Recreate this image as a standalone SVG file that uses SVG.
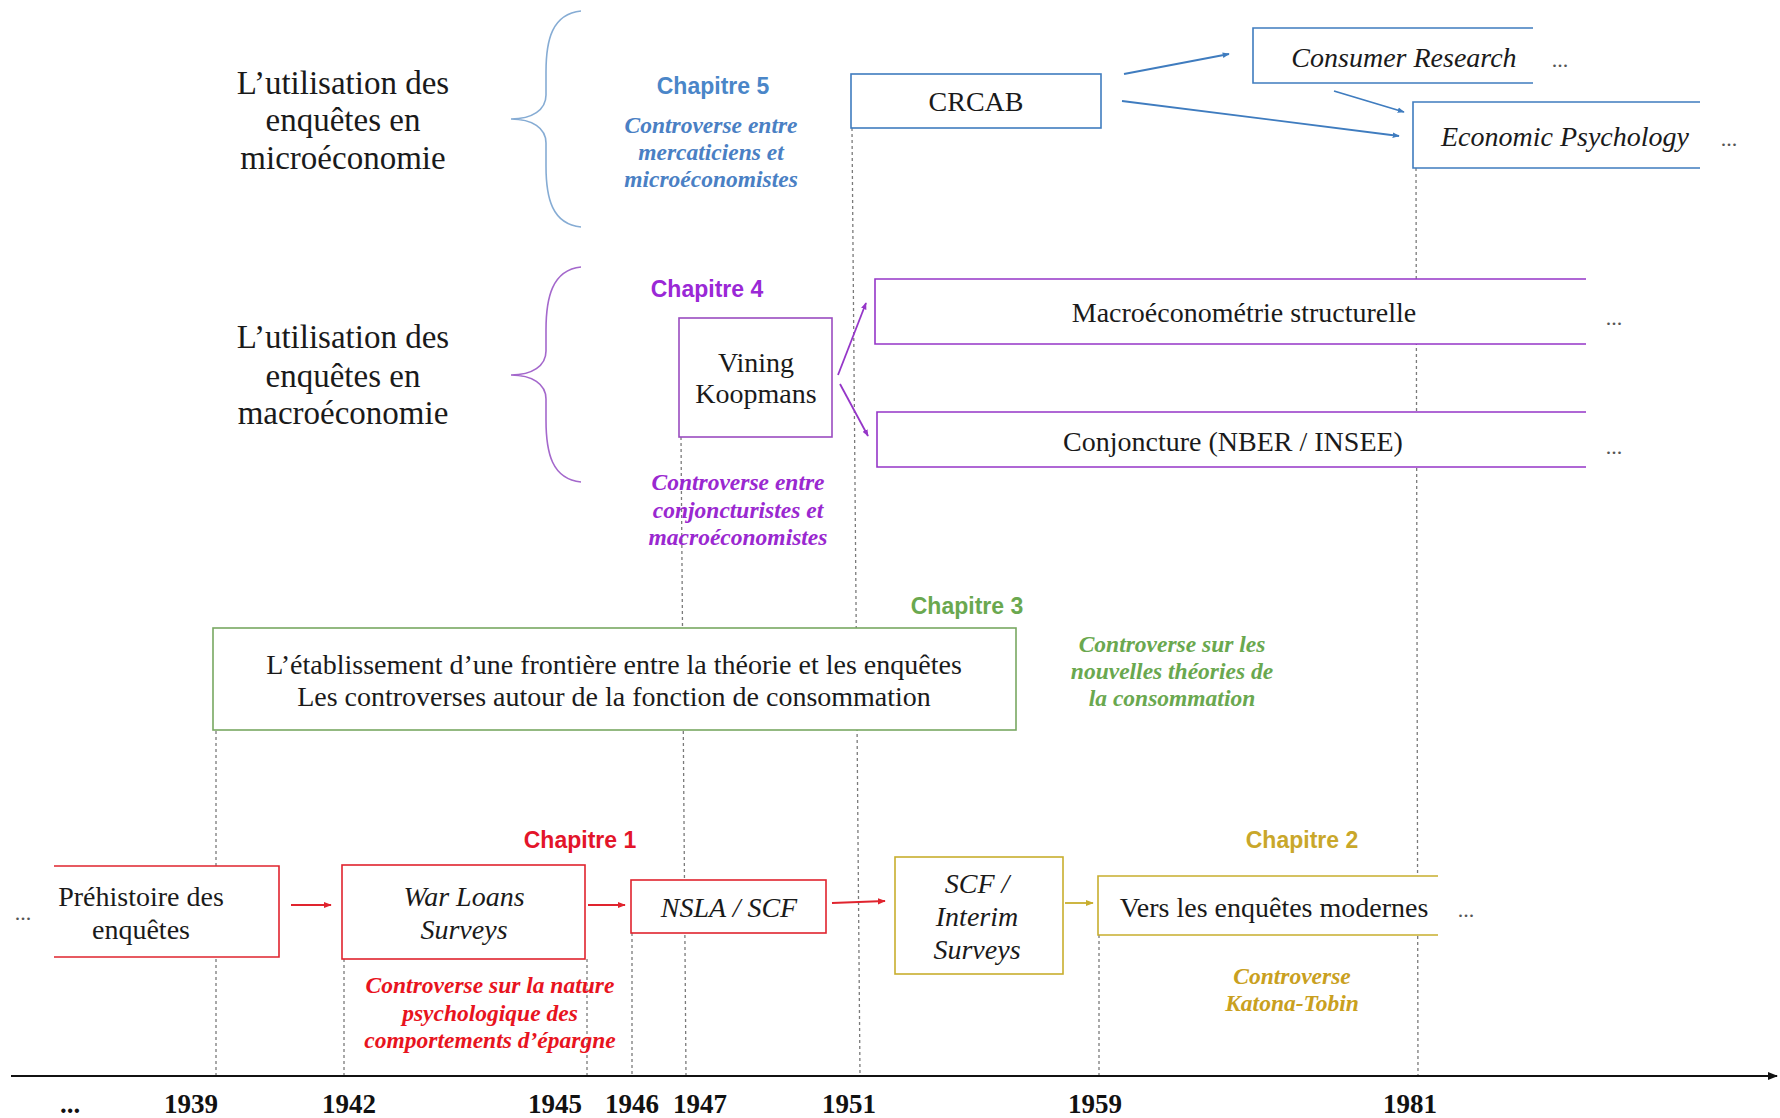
<svg xmlns="http://www.w3.org/2000/svg" width="1780" height="1118" viewBox="0 0 1780 1118">
<style>
.t{font-family:"Liberation Serif","Times New Roman",serif;font-size:28px;fill:#1a1a1a;text-anchor:middle}
.ti{font-style:italic}
.title{font-family:"Liberation Serif","Times New Roman",serif;font-size:33px;fill:#1a1a1a;text-anchor:middle}
.ch{font-family:"Liberation Sans",Arial,sans-serif;font-weight:bold;font-size:23px;text-anchor:middle}
.cv{font-family:"Liberation Serif","Times New Roman",serif;font-weight:bold;font-style:italic;font-size:23.5px;text-anchor:middle}
.yr{font-family:"Liberation Serif","Times New Roman",serif;font-weight:bold;font-size:27px;fill:#111;text-anchor:middle}
.dots{font-family:"Liberation Serif","Times New Roman",serif;font-size:22px;fill:#555;text-anchor:middle}
.guide{stroke:#7a7a7a;stroke-width:1.3;stroke-dasharray:3 3;fill:none}
.box{fill:#fff;stroke-width:1.6}
.bg{fill:#fff;stroke:none}
.blue{stroke:#3f7cbf;fill:none}
.purple{stroke:#9536c8;fill:none}
.green{stroke:#78a862;fill:none}
.red{stroke:#e0242e;fill:none}
.olive{stroke:#c8ae2e;fill:none}
.conn{stroke-width:1.8;fill:none}
</style>
<defs>
<marker id="ab" viewBox="0 0 10 10" refX="9" refY="5" markerWidth="7" markerHeight="7" orient="auto" markerUnits="userSpaceOnUse"><path d="M0,1 L10,5 L0,9 z" fill="#3f7cbf"/></marker>
<marker id="ap" viewBox="0 0 10 10" refX="9" refY="5" markerWidth="7" markerHeight="7" orient="auto" markerUnits="userSpaceOnUse"><path d="M0,1 L10,5 L0,9 z" fill="#9536c8"/></marker>
<marker id="ar" viewBox="0 0 10 10" refX="9" refY="5" markerWidth="8" markerHeight="8" orient="auto" markerUnits="userSpaceOnUse"><path d="M0,1 L10,5 L0,9 z" fill="#e0242e"/></marker>
<marker id="ao" viewBox="0 0 10 10" refX="9" refY="5" markerWidth="8" markerHeight="8" orient="auto" markerUnits="userSpaceOnUse"><path d="M0,1 L10,5 L0,9 z" fill="#c8ae2e"/></marker>
<marker id="ak" viewBox="0 0 10 10" refX="9" refY="5" markerWidth="10" markerHeight="10" orient="auto" markerUnits="userSpaceOnUse"><path d="M0,1 L10,5 L0,9 z" fill="#111"/></marker>
</defs>
<rect width="1780" height="1118" fill="#fff"/>

<g id="guides">
<line class="guide" x1="216" y1="731" x2="216" y2="1076"/>
<line class="guide" x1="344" y1="959" x2="344" y2="1076"/>
<line class="guide" x1="587" y1="959" x2="587" y2="1076"/>
<line class="guide" x1="632" y1="933" x2="632" y2="1076"/>
<line class="guide" x1="681" y1="437" x2="686" y2="1076"/>
<line class="guide" x1="852" y1="128" x2="860" y2="1076"/>
<line class="guide" x1="1099" y1="935" x2="1099" y2="1076"/>
<line class="guide" x1="1416" y1="168" x2="1418" y2="1076"/>
</g>

<g id="axis">
<line x1="11" y1="1076" x2="1777" y2="1076" stroke="#111" stroke-width="2.2" marker-end="url(#ak)"/>
<text class="yr" x="70" y="1113">...</text>
<text class="yr" x="191" y="1113">1939</text>
<text class="yr" x="349" y="1113">1942</text>
<text class="yr" x="555" y="1113">1945</text>
<text class="yr" x="632" y="1113">1946</text>
<text class="yr" x="700" y="1113">1947</text>
<text class="yr" x="849" y="1113">1951</text>
<text class="yr" x="1095" y="1113">1959</text>
<text class="yr" x="1410" y="1113">1981</text>
</g>

<g id="micro-title">
<text class="title" x="343" y="94">L’utilisation des</text>
<text class="title" x="343" y="131">enquêtes en</text>
<text class="title" x="343" y="169">microéconomie</text>
<path d="M581,11 C552,14 546,40 546,72 L546,95 C546,110 532,119 511,119 C532,119 546,128 546,143 L546,166 C546,198 552,224 581,227" stroke="#86acd4" stroke-width="1.6" fill="none"/>
</g>

<g id="macro-title">
<text class="title" x="343" y="348">L’utilisation des</text>
<text class="title" x="343" y="387">enquêtes en</text>
<text class="title" x="343" y="424">macroéconomie</text>
<path d="M581,267 C552,270 546,298 546,330 L546,351 C546,366 532,375 511,375 C532,375 546,384 546,399 L546,420 C546,453 552,479 581,482" stroke="#a468cc" stroke-width="1.6" fill="none"/>
</g>

<g id="chapitre5">
<text class="ch" x="713" y="94" fill="#4a86c8">Chapitre 5</text>
<text class="cv" fill="#4a80c4"><tspan x="711" y="133">Controverse entre</tspan><tspan x="711" y="160">mercaticiens et</tspan><tspan x="711" y="187">microéconomistes</tspan></text>
</g>

<g id="crcab">
<rect class="box" x="851" y="74" width="250" height="54" stroke="#3f7cbf"/>
<text class="t" x="976" y="111">CRCAB</text>
</g>

<g id="consumer-research">
<rect class="bg" x="1253" y="28" width="280" height="55"/>
<path class="blue" stroke-width="1.6" d="M1533,28 H1253 V83 H1533"/>
<text class="t ti" x="1404" y="67">Consumer Research</text>
<text class="dots" x="1560" y="67">...</text>
</g>

<g id="economic-psychology">
<rect class="bg" x="1413" y="102" width="287" height="66"/>
<path class="blue" stroke-width="1.6" d="M1700,102 H1413 V168 H1700"/>
<text class="t ti" x="1565" y="146">Economic Psychology</text>
<text class="dots" x="1729" y="146">...</text>
</g>

<g id="chapitre4">
<text class="ch" x="707" y="297" fill="#9a28d6">Chapitre 4</text>
<text class="cv" fill="#9a28d0"><tspan x="738" y="490">Controverse entre</tspan><tspan x="738" y="518">conjoncturistes et</tspan><tspan x="738" y="545">macroéconomistes</tspan></text>
</g>

<g id="vining-koopmans">
<rect class="box" x="679" y="318" width="153" height="119" stroke="#9a4cc0"/>
<text class="t" x="756" y="372" font-size="27">Vining</text>
<text class="t" x="756" y="403" font-size="27">Koopmans</text>
</g>

<g id="macroeconometrie">
<rect class="bg" x="875" y="279" width="711" height="65"/>
<path class="purple" stroke-width="1.6" d="M1586,279 H875 V344 H1586"/>
<text class="t" x="1244" y="322">Macroéconométrie structurelle</text>
<text class="dots" x="1614" y="325">...</text>
</g>

<g id="conjoncture">
<rect class="bg" x="877" y="412" width="709" height="55"/>
<path class="purple" stroke-width="1.6" d="M1586,412 H877 V467 H1586"/>
<text class="t" x="1233" y="451">Conjoncture (NBER / INSEE)</text>
<text class="dots" x="1614" y="454">...</text>
</g>

<g id="chapitre3">
<text class="ch" x="967" y="614" fill="#6aa84f">Chapitre 3</text>
<text class="cv" fill="#6aa84f"><tspan x="1172" y="652">Controverse sur les</tspan><tspan x="1172" y="679">nouvelles théories de</tspan><tspan x="1172" y="706">la consommation</tspan></text>
</g>

<g id="frontiere">
<rect class="box" x="213" y="628" width="803" height="102" stroke="#78a862"/>
<text class="t" x="614" y="674" font-size="26.5">L’établissement d’une frontière entre la théorie et les enquêtes</text>
<text class="t" x="614" y="706" font-size="26.5">Les controverses autour de la fonction de consommation</text>
</g>

<g id="chapitre1">
<text class="ch" x="580" y="848" fill="#e3152a">Chapitre 1</text>
<text class="cv" fill="#e8141e"><tspan x="490" y="993">Controverse sur la nature</tspan><tspan x="490" y="1021">psychologique des</tspan><tspan x="490" y="1048">comportements d’épargne</tspan></text>
</g>

<g id="chapitre2">
<text class="ch" x="1302" y="848" fill="#c9a72a">Chapitre 2</text>
<text class="cv" fill="#c9a020"><tspan x="1292" y="984">Controverse</tspan><tspan x="1292" y="1011">Katona-Tobin</tspan></text>
</g>

<g id="prehistoire">
<text class="dots" x="23" y="920">...</text>
<rect class="bg" x="54" y="866" width="225" height="91"/>
<path class="red" stroke-width="1.6" d="M54,866 H279 V957 H54"/>
<text class="t" x="141" y="906">Préhistoire des</text>
<text class="t" x="141" y="939">enquêtes</text>
</g>

<g id="war-loans">
<rect class="box" x="342" y="865" width="243" height="94" stroke="#e0242e"/>
<text class="t ti" x="464" y="906">War Loans</text>
<text class="t ti" x="464" y="939">Surveys</text>
</g>

<g id="nsla-scf">
<rect class="box" x="631" y="880" width="195" height="53" stroke="#e0242e"/>
<text class="t ti" x="729" y="917">NSLA / SCF</text>
</g>

<g id="scf-interim">
<rect class="box" x="895" y="857" width="168" height="117" stroke="#c8ae2e"/>
<text class="t ti" x="977" y="893">SCF /</text>
<text class="t ti" x="977" y="926">Interim</text>
<text class="t ti" x="977" y="959">Surveys</text>
</g>

<g id="vers-modernes">
<rect class="bg" x="1098" y="876" width="340" height="59"/>
<path class="olive" stroke-width="1.6" d="M1438,876 H1098 V935 H1438"/>
<text class="t" x="1274" y="917" font-size="28.5">Vers les enquêtes modernes</text>
<text class="dots" x="1466" y="917">...</text>
</g>

<g id="connectors">
<line class="conn blue" x1="1124" y1="74" x2="1229" y2="54" marker-end="url(#ab)"/>
<line class="conn blue" x1="1122" y1="101" x2="1399" y2="136" marker-end="url(#ab)"/>
<line class="conn blue" x1="1334" y1="91" x2="1404" y2="112" marker-end="url(#ab)"/>
<line class="conn purple" x1="838" y1="375" x2="866" y2="303" marker-end="url(#ap)"/>
<line class="conn purple" x1="840" y1="384" x2="868" y2="436" marker-end="url(#ap)"/>
<line class="conn red" x1="291" y1="905" x2="331" y2="905" marker-end="url(#ar)"/>
<line class="conn red" x1="588" y1="905" x2="625" y2="905" marker-end="url(#ar)"/>
<line class="conn red" x1="832" y1="903" x2="885" y2="901" marker-end="url(#ar)"/>
<line class="conn olive" x1="1065" y1="903" x2="1093" y2="903" marker-end="url(#ao)"/>
</g>
</svg>
